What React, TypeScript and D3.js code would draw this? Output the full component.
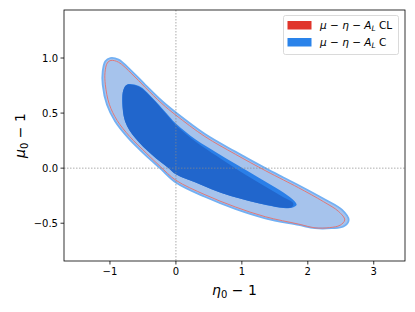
import React from "react";
import * as d3 from "d3";

const xTicks = [-1, 0, 1, 2, 3];
const yTicks = [-0.5, 0.0, 0.5, 1.0];
const yTickLabels = ["\u22120.5", "0.0", "0.5", "1.0"];
const xTickLabels = ["\u22121", "0", "1", "2", "3"];

// C 2-sigma contour (eta0-1, mu0-1)
const outerC: [number, number][] = [
  [-0.995, 1.0], [-0.87, 0.985], [-0.667, 0.878], [-0.465, 0.757], [-0.212, 0.61], [0, 0.505],
  [0.44, 0.31], [0.9, 0.15], [1.355, 0.0], [1.63, -0.085], [1.86, -0.155], [2.26, -0.285], [2.52, -0.379],
  [2.62, -0.47], [2.54, -0.53], [2.36, -0.545], [2.11, -0.545], [1.86, -0.515], [1.355, -0.455],
  [0.9, -0.37], [0.44, -0.26], [0, -0.13], [-0.24, 0.0], [-0.465, 0.121], [-0.72, 0.273],
  [-0.92, 0.424], [-1.045, 0.575], [-1.11, 0.757], [-1.11, 0.88], [-1.07, 0.97],
];
// CL 2-sigma contour
const outerCL: [number, number][] = [
  [-0.985, 0.978], [-0.87, 0.962], [-0.667, 0.855], [-0.465, 0.733], [-0.212, 0.586], [0, 0.481],
  [0.44, 0.287], [0.9, 0.127], [1.355, -0.022], [1.63, -0.107], [1.86, -0.178], [2.24, -0.305], [2.47, -0.395],
  [2.56, -0.47], [2.49, -0.518], [2.33, -0.54], [2.11, -0.542], [1.86, -0.508], [1.355, -0.441],
  [0.9, -0.352], [0.44, -0.241], [0, -0.11], [-0.24, 0.017], [-0.45, 0.137], [-0.7, 0.287],
  [-0.89, 0.432], [-1.01, 0.58], [-1.07, 0.757], [-1.075, 0.87], [-1.04, 0.955],
];
// 1-sigma contours
const innerBright: [number, number][] = [
  [-0.74, 0.76], [-0.56, 0.745], [-0.36, 0.64], [-0.16, 0.51], [0, 0.405], [0.3, 0.26],
  [0.62, 0.14], [0.9, 0.04], [1.125, -0.04], [1.38, -0.13], [1.63, -0.22], [1.8, -0.3],
  [1.83, -0.335], [1.76, -0.36], [1.63, -0.362], [1.38, -0.337], [1.125, -0.3], [0.9, -0.265],
  [0.62, -0.21], [0.3, -0.13], [0, -0.055], [-0.11, 0.0], [-0.364, 0.121], [-0.617, 0.273],
  [-0.77, 0.424], [-0.815, 0.636], [-0.79, 0.72],
];
const innerDark: [number, number][] = [
  [-0.74, 0.757], [-0.567, 0.742], [-0.364, 0.636], [-0.162, 0.5], [0, 0.39], [0.3, 0.24],
  [0.62, 0.11], [0.9, 0.0], [1.125, -0.085], [1.38, -0.175], [1.63, -0.265], [1.78, -0.32],
  [1.76, -0.352], [1.63, -0.36], [1.38, -0.335], [1.125, -0.3], [0.9, -0.265], [0.62, -0.21],
  [0.3, -0.13], [0, -0.055], [-0.11, 0.0], [-0.364, 0.121], [-0.617, 0.273], [-0.77, 0.424],
  [-0.81, 0.636], [-0.79, 0.72],
];

const W = 415, H = 312;
const L = 64, R = 405, T = 10, B = 261;

export default function App() {
  const x = d3.scaleLinear().domain([-1.697, 3.474]).range([L, R]);
  const y = d3.scaleLinear().domain([-0.843, 1.436]).range([B, T]);
  const line = d3.line<[number, number]>().x((d) => x(d[0])).y((d) => y(d[1])).curve(d3.curveCatmullRomClosed.alpha(0.5));
  const font = "DejaVu Sans, sans-serif";
  return (
    <svg width={W} height={H} style={{ position: "absolute", left: 0, top: 0 }} fontFamily={font}>
      <rect x={0} y={0} width={W} height={H} fill="#fff" />
      <defs>
        <clipPath id="plot"><rect x={L} y={T} width={R - L} height={B - T} /></clipPath>
      </defs>
      <g clipPath="url(#plot)">
        <path d={line(outerC) || ""} fill="#a6c3ec" stroke="#72b0f4" strokeWidth={1.8} />
        <path d={line(outerCL) || ""} fill="none" stroke="#e07878" strokeWidth={1} />
        <path d={line(innerBright) || ""} fill="#2a7fe8" stroke="none" />
        <path d={line(innerDark) || ""} fill="#2166cc" stroke="none" />
        <line x1={x(0)} x2={x(0)} y1={T} y2={B} stroke="#888" strokeWidth={0.7} strokeDasharray="1.5,1.5" />
        <line x1={L} x2={R} y1={y(0)} y2={y(0)} stroke="#888" strokeWidth={0.7} strokeDasharray="1.5,1.5" />
      </g>
      <rect x={L} y={T} width={R - L} height={B - T} fill="none" stroke="#000" strokeWidth={0.8} />
      {xTicks.map((t, i) => (
        <g key={"x" + i}>
          <line x1={x(t)} x2={x(t)} y1={B} y2={B + 3.5} stroke="#000" strokeWidth={0.8} />
          <text x={x(t)} y={B + 14} fontSize={10} textAnchor="middle" fill="#000">{xTickLabels[i]}</text>
        </g>
      ))}
      {yTicks.map((t, i) => (
        <g key={"y" + i}>
          <line x1={L - 3.5} x2={L} y1={y(t)} y2={y(t)} stroke="#000" strokeWidth={0.8} />
          <text x={L - 6} y={y(t) + 3.5} fontSize={10} textAnchor="end" fill="#000">{yTickLabels[i]}</text>
        </g>
      ))}
      <text x={(L + R) / 2} y={295} fontSize={14} textAnchor="middle" fill="#000">
        <tspan fontStyle="italic">η</tspan><tspan fontSize={10} dy={3}>0</tspan><tspan dy={-3}>{" \u2212 1"}</tspan>
      </text>
      <text transform={`translate(25,${(T + B) / 2}) rotate(-90)`} fontSize={14} textAnchor="middle" fill="#000">
        <tspan fontStyle="italic">μ</tspan><tspan fontSize={10} dy={3}>0</tspan><tspan dy={-3}>{" \u2212 1"}</tspan>
      </text>
      <g>
        <rect x={283.5} y={15.5} width={115} height={39} rx={2} fill="#fff" fillOpacity={0.8} stroke="#d0d0d0" strokeWidth={0.8} />
        <rect x={287.5} y={21} width={24} height={8.5} fill="#e0352b" />
        <rect x={287.5} y={38} width={24} height={8.5} fill="#2a83ea" />
        <text x={320} y={29} fontSize={10.5} fill="#000">
          <tspan fontStyle="italic">μ</tspan>{" \u2212 "}<tspan fontStyle="italic">η</tspan>{" \u2212 "}<tspan fontStyle="italic">A</tspan><tspan fontStyle="italic" fontSize={7.5} dy={2}>L</tspan><tspan dy={-2}>{" CL"}</tspan>
        </text>
        <text x={320} y={46} fontSize={10.5} fill="#000">
          <tspan fontStyle="italic">μ</tspan>{" \u2212 "}<tspan fontStyle="italic">η</tspan>{" \u2212 "}<tspan fontStyle="italic">A</tspan><tspan fontStyle="italic" fontSize={7.5} dy={2}>L</tspan><tspan dy={-2}>{" C"}</tspan>
        </text>
      </g>
    </svg>
  );
}
